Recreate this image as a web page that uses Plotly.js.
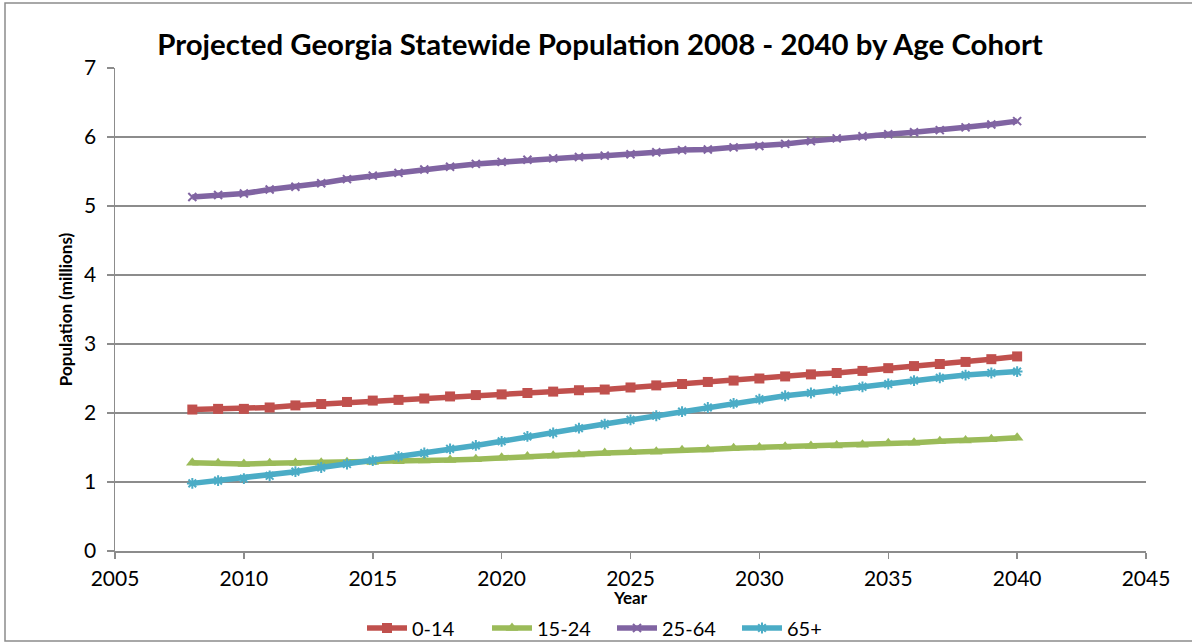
<!DOCTYPE html>
<html>
<head>
<meta charset="utf-8">
<script src="https://cdn.plot.ly/plotly-3.0.1.min.js"></script>
<style>
html,body{margin:0;padding:0;background:#fff;}
#chart{width:1192px;height:642px;}
</style>
</head>
<body>
<div id="chart"></div>
<script>
var years = [2008,2009,2010,2011,2012,2013,2014,2015,2016,2017,2018,2019,2020,2021,2022,2023,2024,2025,2026,2027,2028,2029,2030,2031,2032,2033,2034,2035,2036,2037,2038,2039,2040];
var age0to14 = [2.05,2.06,2.06,2.08,2.11,2.13,2.16,2.18,2.19,2.21,2.24,2.26,2.27,2.29,2.31,2.33,2.34,2.37,2.40,2.42,2.45,2.47,2.50,2.53,2.56,2.58,2.61,2.65,2.68,2.71,2.74,2.78,2.82];
var age15to24 = [1.28,1.27,1.26,1.27,1.275,1.28,1.285,1.29,1.30,1.31,1.32,1.33,1.35,1.37,1.38,1.40,1.42,1.43,1.44,1.46,1.47,1.49,1.50,1.51,1.52,1.53,1.54,1.56,1.57,1.59,1.60,1.62,1.64];
var age25to64 = [5.13,5.16,5.18,5.24,5.28,5.33,5.39,5.44,5.48,5.53,5.57,5.61,5.64,5.67,5.69,5.71,5.73,5.75,5.78,5.81,5.82,5.85,5.87,5.90,5.94,5.98,6.01,6.04,6.07,6.10,6.14,6.18,6.23];
var age65plus = [0.98,1.02,1.05,1.09,1.15,1.21,1.26,1.31,1.37,1.42,1.48,1.53,1.59,1.66,1.71,1.78,1.84,1.90,1.96,2.02,2.08,2.14,2.20,2.25,2.29,2.33,2.38,2.42,2.47,2.51,2.55,2.58,2.60];
var seriesNames = ['0-14','15-24','25-64','65+'];
var titleText = 'Projected Georgia Statewide Population 2008 - 2040 by Age Cohort';
var xTitle = 'Year';
var yTitle = 'Population (millions)';

var FONT = 'Lato, "Liberation Sans", sans-serif';
var colors = ['#C0504D','#9BBB59','#8064A2','#4BACC6'];
var sym = [
  {symbol:'square', size:10, line:{width:0}},
  {symbol:'triangle-up', size:11, line:{width:0}},
  {symbol:'x-thin-open', size:8, line:{width:2, color:colors[2]}},
  {symbol:'asterisk-open', size:9, line:{width:2, color:colors[3]}}
];
var ys = [age0to14, age15to24, age25to64, age65plus];
var traces = ys.map(function(v,i){
  var m = Object.assign({color:colors[i]}, sym[i]);
  return {x:years, y:v, name:seriesNames[i], type:'scatter', mode:'lines+markers',
    line:{color:colors[i], width:5.5}, marker:m};
});

var L=115, R=1146, T=68, B=551, W=1192, H=642;
var pw=R-L, ph=B-T;
var layout = {
  width:W, height:H,
  margin:{l:L, r:W-R, t:T, b:H-B, pad:0},
  paper_bgcolor:'#fff', plot_bgcolor:'#fff',
  font:{family:FONT, color:'#000', size:20},
  title:{text:'<b>'+titleText+'</b>', font:{family:FONT, size:29.4, color:'#000'},
    x:600/W, xref:'container', xanchor:'center', y:1-45/H, yref:'container', yanchor:'middle'},
  showlegend:true,
  legend:{orientation:'h', xref:'container', x:362/W, xanchor:'left', yref:'container', y:1-628/H, yanchor:'middle',
    font:{family:FONT, size:20, color:'#000'}, itemwidth:40, entrywidth:70, entrywidthmode:'pixels', tracegroupgap:0, bgcolor:'rgba(0,0,0,0)'},
  xaxis:{range:[2005,2045], tickmode:'linear', tick0:2005, dtick:5, ticks:'outside', ticklen:6, tickcolor:'#8c8c8c', tickwidth:1.5,
    showline:true, linecolor:'#8c8c8c', linewidth:1.5, showgrid:false, zeroline:false,
    tickfont:{family:FONT, size:21, color:'#000'}, ticklabelstandoff:2,
    title:{text:'<b>'+xTitle+'</b>', font:{family:FONT, size:17, color:'#000'}, standoff:2}},
  yaxis:{range:[0,7], tickmode:'linear', tick0:0, dtick:1, ticks:'outside', ticklen:7, tickcolor:'#8c8c8c', tickwidth:1.5,
    showline:true, linecolor:'#8c8c8c', linewidth:1.5, showgrid:true, gridcolor:'#8c8c8c', gridwidth:1.5, zeroline:false,
    tickfont:{family:FONT, size:21, color:'#000'}, ticklabelstandoff:6,
    title:{text:'<b>'+yTitle+'</b>', font:{family:FONT, size:17, color:'#000'}, standoff:7}},
  shapes:[{type:'rect', xref:'paper', yref:'paper', layer:'below',
    x0:(5-L)/pw, x1:(1200-L)/pw, y0:(B-641)/ph, y1:(B-3)/ph,
    line:{color:'#8c8c8c', width:1.5}, fillcolor:'rgba(0,0,0,0)'}]
};
Plotly.newPlot('chart', traces, layout, {displayModeBar:false, staticPlot:true});
</script>
</body>
</html>
